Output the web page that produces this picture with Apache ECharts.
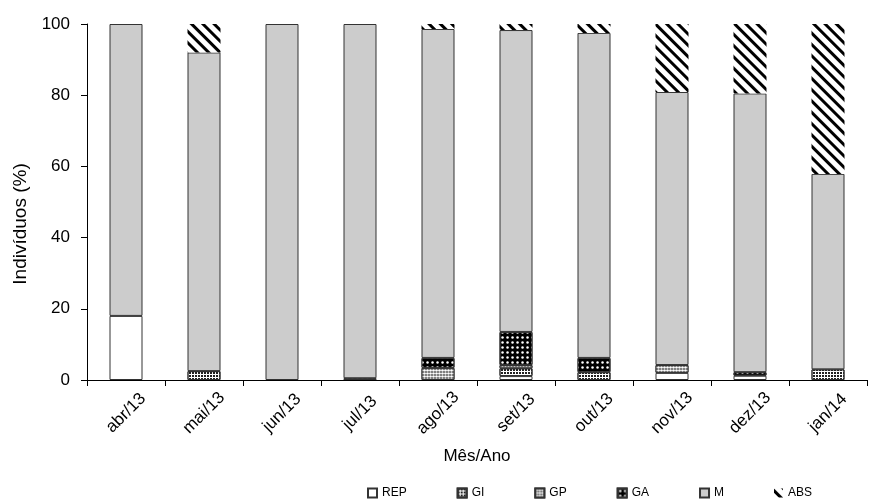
<!DOCTYPE html>
<html lang="pt">
<head>
    <meta charset="UTF-8">
    <script src="https://cdn.jsdelivr.net/npm/echarts@6/dist/echarts.min.js"></script>
    <title>Indivíduos por mês</title>
    <style>
        html, body { margin: 0; padding: 0; background: #fff; }
    </style>
</head>
<body>
<div id="main" style="width: 883px;height:500px;"></div>
<script type="text/javascript">
    // meses (eixo x)
    var meses = ['abr/13', 'mai/13', 'jun/13', 'jul/13', 'ago/13', 'set/13', 'out/13', 'nov/13', 'dez/13', 'jan/14'];
    // valores em %
    var rep = [18, 0, 0, 0, 0, 1.1, 0, 2, 1.2, 0];
    var gi  = [0, 2.5, 0, 0, 0, 2.2, 2.2, 0, 0, 3];
    var gp  = [0, 0, 0, 0, 3.4, 0.9, 0, 2.2, 0, 0];
    var ga  = [0, 0, 0, 0.5, 2.8, 9.3, 4, 0, 1, 0];
    var m   = [82, 89.5, 100, 99.5, 92.4, 84.8, 91.3, 76.7, 78.3, 54.9];
    var abs = [0, 8, 0, 0, 1.4, 1.7, 2.5, 19.1, 19.5, 42.1];
    var yTicks = [0, 20, 40, 60, 80, 100];

    var myChart = echarts.init(document.getElementById('main'));

    var fonte = 'Liberation Sans, Arial, sans-serif';
    var borda = '#333';

    // zero -> sem barra (evita linhas de borda no zero)
    function semZero(arr) {
        return arr.map(function (v) { return v === 0 ? '-' : v; });
    }

    function serie(nome, dados, cor, decal, comBorda) {
        var s = {
            name: nome,
            type: 'bar',
            stack: 'total',
            barWidth: 33,
            data: semZero(dados),
            itemStyle: {
                color: cor,
                borderColor: borda,
                borderWidth: comBorda === false ? 0 : 1
            }
        };
        if (decal) {
            s.itemStyle.decal = decal;
        }
        return s;
    }

    var option = {
        animation: false,
        textStyle: { fontFamily: fonte },
        grid: { left: 87, right: 16, top: 24, bottom: 120, outerBoundsMode: 'none', containLabel: false },
        legend: {
            top: 482,
            left: 362,
            icon: 'rect',
            itemWidth: 9,
            itemHeight: 9,
            itemGap: 50,
            textStyle: { fontSize: 12, color: '#000', fontFamily: fonte },
            data: ['REP', 'GI', 'GP', 'GA', 'M', 'ABS']
        },
        xAxis: {
            type: 'category',
            data: meses,
            name: 'Mês/Ano',
            nameLocation: 'middle',
            nameGap: 68,
            nameTextStyle: { fontSize: 17, color: '#000', fontFamily: fonte },
            axisLine: { lineStyle: { color: '#000', width: 1 } },
            axisTick: { show: true, alignWithLabel: false, length: 6, lineStyle: { color: '#000' } },
            axisLabel: {
                rotate: 45, fontSize: 17, color: '#000', margin: 33, fontFamily: fonte,
                align: 'center', verticalAlign: 'middle'
            }
        },
        yAxis: {
            type: 'value',
            min: 0,
            max: 100,
            interval: 20,
            name: 'Indivíduos (%)',
            nameLocation: 'middle',
            nameGap: 57,
            nameTextStyle: { fontSize: 19, color: '#000', fontFamily: fonte, padding: [0, 44, 0, 0] },
            axisLine: { show: true, lineStyle: { color: '#000', width: 1 } },
            axisTick: { show: true, length: 6, lineStyle: { color: '#000' } },
            splitLine: { show: false },
            axisLabel: {
                fontSize: 17, color: '#000', margin: 17, fontFamily: fonte,
                formatter: function (v) { return yTicks.indexOf(v) >= 0 ? String(v) : ''; }
            }
        },
        series: [
            serie('REP', rep, '#ffffff'),
            serie('GI', gi, '#ffffff', {
                symbol: 'rect', color: '#222', dashArrayX: [2, 1], dashArrayY: [2, 1], symbolSize: 1, rotation: 0
            }),
            serie('GP', gp, '#444444', {
                symbol: 'circle', color: '#ffffff', dashArrayX: [3, 0], dashArrayY: [3, 0], symbolSize: 0.9
            }),
            serie('GA', ga, '#000000', {
                symbol: 'circle', color: '#ffffff', dashArrayX: [5, 0], dashArrayY: [5, 0], symbolSize: 0.5
            }),
            serie('M', m, '#cccccc'),
            serie('ABS', abs, '#ffffff', {
                symbol: 'rect',
                color: '#000000',
                dashArrayX: [1, 0],
                dashArrayY: [3, 5],
                rotation: Math.PI / 4
            }, false)
        ]
    };

    myChart.setOption(option);
</script>
</body>
</html>
